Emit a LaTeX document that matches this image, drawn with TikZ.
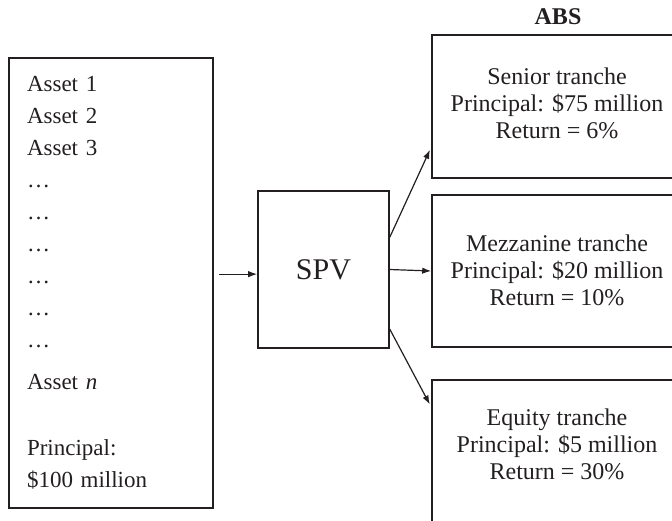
\documentclass[tikz,border=0pt]{standalone}
\usepackage{fontspec}
\setmainfont{Liberation Serif}
\usetikzlibrary{arrows.meta}
\definecolor{ink}{HTML}{231F20}

\tikzset{
	box/.style={draw, line width=0.8pt, inner sep=0pt},
	tranche/.style={box, minimum width=124pt},
	txt/.style={align=center, font=\fontsize{12}{13.5}\selectfont}
}

\begin{document}
\begin{tikzpicture}[x=0.5pt, y=-0.5pt, color=ink,
	>={Latex[length=4.5pt,width=3.2pt]}, every edge/.style={draw, line width=0.6pt}]
	\useasboundingbox (0,0) rectangle (672,520);
	\clip (0,0) rectangle (672,520);

	\node[font=\fontsize{12}{13.5}\selectfont\bfseries] at (558,17) (abs) {ABS};

	\node[box, minimum width=102pt, minimum height=225pt, text width=84pt, inner xsep=9pt,
		align=left, font=\fontsize{11.5}{16}\selectfont] at (111,283) (assets)
		{Asset 1\\ Asset 2\\ Asset 3\\ \ldots\\ \ldots\\ \ldots\\ \ldots\\ \ldots\\ \ldots\\[5pt]
		Asset \textit{n}\\[17pt] Principal:\\ \$100 million};

	\node[box, minimum width=65.5pt, minimum height=78.5pt, font=\fontsize{15}{18}\selectfont] at (323.5,269.5) (spv) {SPV};

	\node[tranche, minimum height=71.5pt] at (556,106.5) (senior) {};
	\node[tranche, minimum height=76pt] at (556,271) (mezz) {};
	\node[tranche, minimum height=75pt] at (556,455) (equity) {};

	\node[txt] at (557,103) (seniortxt) {Senior tranche\\ Principal: \$75 million\\ Return = 6\%};
	\node[txt] at (557,270) (mezztxt) {Mezzanine tranche\\ Principal: \$20 million\\ Return = 10\%};
	\node[txt] at (557,444) (equitytxt) {Equity tranche\\ Principal: \$5 million\\ Return = 30\%};

	\path[->, shorten <=2.5pt] (assets.east |- spv.184) edge (spv.184);
	\path[->, shorten >=1.5pt] (spv.26) edge (senior.198);
	\path[->] (spv.east) edge (mezz.west);
	\path[->, shorten >=1.5pt] (spv.-42) edge (equity.159);
\end{tikzpicture}
\end{document}
